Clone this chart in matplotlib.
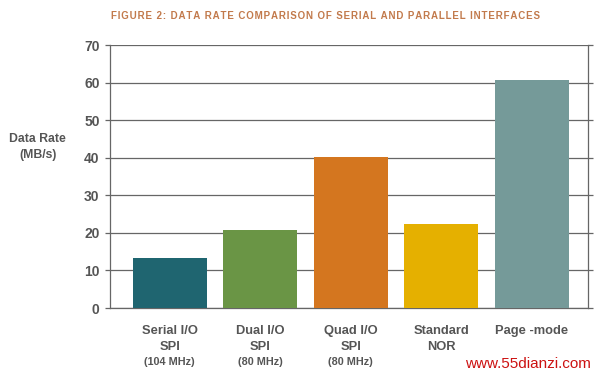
import matplotlib
matplotlib.use("Agg")
import matplotlib.pyplot as plt

plt.rcParams["font.family"] = ["Liberation Sans", "DejaVu Sans"]

categories = ["Serial I/O\nSPI", "Dual I/O\nSPI", "Quad I/O\nSPI", "Standard\nNOR", "Page -mode"]
clock_notes = ["(104 MHz)", "(80 MHz)", "(80 MHz)", "", ""]
data_rates = [13.3, 20.7, 40.3, 22.3, 60.6]
bar_colors = ["#1f6570", "#6a9545", "#d4761f", "#e5b000", "#759a99"]
y_ticks = [0, 10, 20, 30, 40, 50, 60, 70]
title = "FIGURE 2: DATA RATE COMPARISON OF SERIAL AND PARALLEL INTERFACES"

text_gray = "#555555"
line_gray = "#666666"

fig = plt.figure(figsize=(5.97, 3.77), dpi=100)
ax = fig.add_axes([0.1843, 0.183, 0.8007, 0.6976])

x = list(range(len(categories)))
ax.bar(x, data_rates, width=0.82, color=bar_colors, zorder=3)

ax.set_xlim(-0.66, 4.62)
ax.set_ylim(0, 70)
ax.set_yticks(y_ticks)
ax.set_yticklabels([str(t) for t in y_ticks], fontsize=10, fontweight="bold", color=text_gray)
ax.yaxis.grid(True, color=line_gray, linewidth=0.9, zorder=0)
ax.tick_params(axis="y", left=True, right=True, direction="out", length=3.5,
               color=line_gray, width=0.9, pad=4)
ax.set_xticks([])

ax.spines["top"].set_visible(False)
for side in ["left", "right", "bottom"]:
    ax.spines[side].set_color(line_gray)
    ax.spines[side].set_linewidth(0.9)

# category labels under the bars
trans = ax.get_xaxis_transform()
for xi, label, note in zip(x, categories, clock_notes):
    ax.text(xi, -0.063, label, transform=trans, ha="center", va="top",
            fontsize=9.3, fontweight="bold", color=text_gray, linespacing=1.45)
    if note:
        ax.text(xi, -0.187, note, transform=trans, ha="center", va="top",
                fontsize=7.8, fontweight="bold", color=text_gray)

# letter-spaced title
spaced_title = "\u200a".join(title)
fig.text(0.545, 0.958, spaced_title, ha="center", va="center",
         fontsize=7, fontweight="bold", color="#c27a4c")
fig.text(0.063, 0.61, "Data Rate\n(MB/s)", ha="center", va="center",
         fontsize=8.8, fontweight="bold", color=text_gray, linespacing=1.5)
fig.text(0.885, 0.035, "www.55dianzi.com", ha="center", va="center",
         fontsize=11, color="#cc1111")

fig.savefig("out.png", dpi=100)
